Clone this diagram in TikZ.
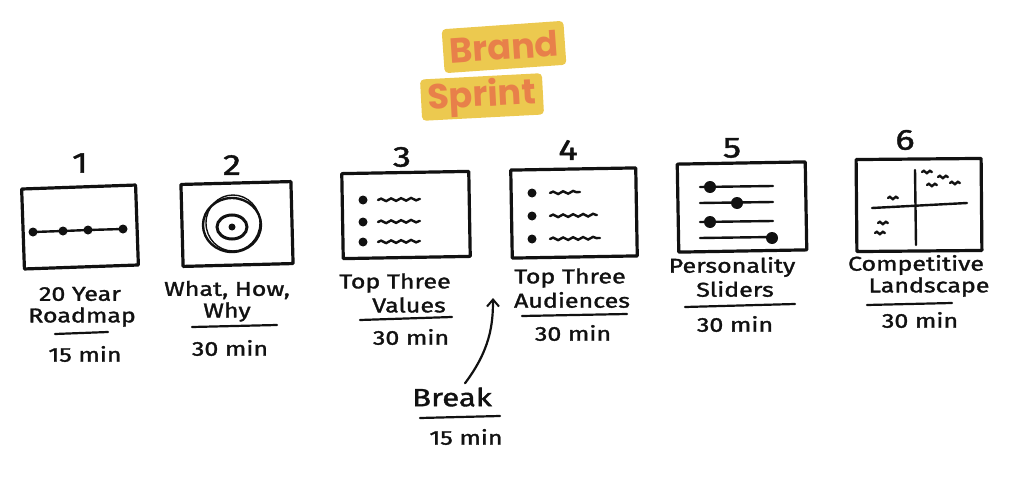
\documentclass[tikz,border=0pt]{standalone}
\usepackage{fontspec}
\setmainfont{Fira Sans}[FakeStretch=1.25, FakeBold=1.5]
\newfontfamily\titlefont{Poppins}
\usetikzlibrary{arrows.meta, positioning, decorations.pathmorphing}
\definecolor{sprintyellow}{HTML}{ECC94F}
\definecolor{sprintorange}{HTML}{E8804A}
\definecolor{ink}{HTML}{111111}

\begin{document}
\begin{tikzpicture}[
    x=1pt, y=1pt,
    screen/.style={rectangle, draw=ink, line width=3.2pt, line join=round, inner sep=0pt},
    stepnum/.style={font=\fontsize{29}{31}\selectfont, text=ink},
    label/.style={font=\fontsize{20}{22}\selectfont, text=ink, inner sep=0pt},
    tag/.style={rectangle, fill=sprintyellow, rounded corners=4pt, minimum width=122pt, inner sep=2pt, font=\titlefont\bfseries\fontsize{35}{37}\selectfont, text=sprintorange},
    uline/.style={draw=ink, line width=2.2pt, line cap=round},
    pen/.style={draw=ink, line width=2.4pt, line cap=round},
    squiggle/.style={pen, decorate, decoration={snake, amplitude=1.3pt, segment length=10pt}},
    arrow/.style={-{Straight Barb[length=7pt, width=12pt, line width=2pt]}, draw=ink, line width=2.2pt, line cap=round}
]
\useasboundingbox (0,0) rectangle (1024,-489);

% title
\node[tag, minimum height=44pt, rotate=4] (brand) at (504,-47) {Brand};
\node[tag, minimum height=40pt, rotate=3] (sprint) at (482,-97) {Sprint};

% screens
\node[screen, minimum width=114pt, minimum height=80pt, rotate=2] (scr1) at (80,-227) {};
\node[screen, minimum width=110pt, minimum height=82pt, rotate=1.5] (scr2) at (237,-224) {};
\node[screen, minimum width=127pt, minimum height=85pt, rotate=1] (scr3) at (406,-215) {};
\node[screen, minimum width=125pt, minimum height=88pt, rotate=1] (scr4) at (574,-213) {};
\node[screen, minimum width=128pt, minimum height=88pt, rotate=1] (scr5) at (742,-207) {};
\node[screen, minimum width=125pt, minimum height=92pt, rotate=0.5] (scr6) at (919,-205) {};

% numbers
\node[stepnum] (num1) at (80,-163) {1};
\node[stepnum] (num2) at (232,-165) {2};
\node[stepnum] (num3) at (402,-157) {3};
\node[stepnum] (num4) at (568,-150) {4};
\node[stepnum] (num5) at (732,-148) {5};
\node[stepnum] (num6) at (905,-140) {6};

% screen 1: roadmap
\draw[pen] (33,-232) -- (63,-231) -- (88,-230) -- (123,-229);
\foreach \x/\y in {33/-232, 63/-231, 88/-230, 123/-229}
    \fill[ink] (\x,\y) circle (4.5);

% screen 2: target
\draw[pen] (232,-225) ellipse (29 and 27);
\draw[pen, line width=1.4pt] (233,-223) ellipse (27 and 28);
\draw[pen, line width=3pt] (232,-227) ellipse (15 and 12);
\fill[ink] (232,-227) circle (3.5);

% screen 3: values
\foreach \y in {-200, -222, -242} {
    \fill[ink] (363,\y) circle (4.5);
    \draw[squiggle] (378,\y) -- (420,\y+1);
}

% screen 4: audiences
\foreach \y/\l in {-193/30, -216/47, -239/50} {
    \fill[ink] (532,\y) circle (4.5);
    \draw[squiggle] (550,\y) -- ++(\l,1);
}

% screen 5: sliders
\foreach \y/\k in {-187/710, -203/737, -222/710, -238/772} {
    \draw[pen] (700,\y) -- (773,\y+1);
    \fill[ink] (\k,\y) circle (6);
}

% screen 6: quadrants
\draw[pen] (915,-170) -- (916,-245);
\draw[pen] (872,-208) -- (967,-203);
\foreach \x/\y in {927/-172, 943/-177, 932/-185, 955/-183, 893/-198, 883/-223, 880/-233}
    \draw[squiggle, decoration={snake, amplitude=1.2pt, segment length=6pt}] (\x-5,\y) -- (\x+5,\y);

% labels
\node[label] (lbl1a) at (80,-294) {20 Year};
\node[label] (lbl1b) at (82,-317) {Roadmap};
\node[label] (time1) at (85,-354) {15 min};
\draw[uline] (55,-334) -- (108,-332);

\node[label] (lbl2a) at (227,-290) {What, How,};
\node[label] (lbl2b) at (227,-312) {Why};
\node[label] (time2) at (230,-348) {30 min};
\draw[uline] (192,-327) -- (277,-325);

\node[label] (lbl3a) at (395,-283) {Top Three};
\node[label] (lbl3b) at (409,-305) {Values};
\node[label] (time3) at (411,-337) {30 min};
\draw[uline] (360,-320) -- (452,-317);

\node[label] (lbl4a) at (570,-278) {Top Three};
\node[label] (lbl4b) at (572,-300) {Audiences};
\node[label] (time4) at (573,-333) {30 min};
\draw[uline] (522,-316) -- (627,-314);

\node[label] (lbl5a) at (732,-267) {Personality};
\node[label] (lbl5b) at (735,-289) {Sliders};
\node[label] (time5) at (735,-324) {30 min};
\draw[uline] (685,-307) -- (795,-304);

\node[label] (lbl6a) at (916,-265) {Competitive};
\node[label] (lbl6b) at (929,-287) {Landscape};
\node[label] (time6) at (920,-320) {30 min};
\draw[uline] (867,-305) -- (952,-303);

% break
\node[label, font=\fontsize{25}{27}\selectfont] (brk) at (452,-397) {Break};
\node[label] (brktime) at (466,-437) {15 min};
\draw[uline] (420,-418) -- (500,-416);
\coordinate (brktip) at (493,-298);
\draw[arrow] ([xshift=13pt, yshift=4pt]brk.north) .. controls (490,-350) and (493,-325) .. (brktip);
\end{tikzpicture}
\end{document}
